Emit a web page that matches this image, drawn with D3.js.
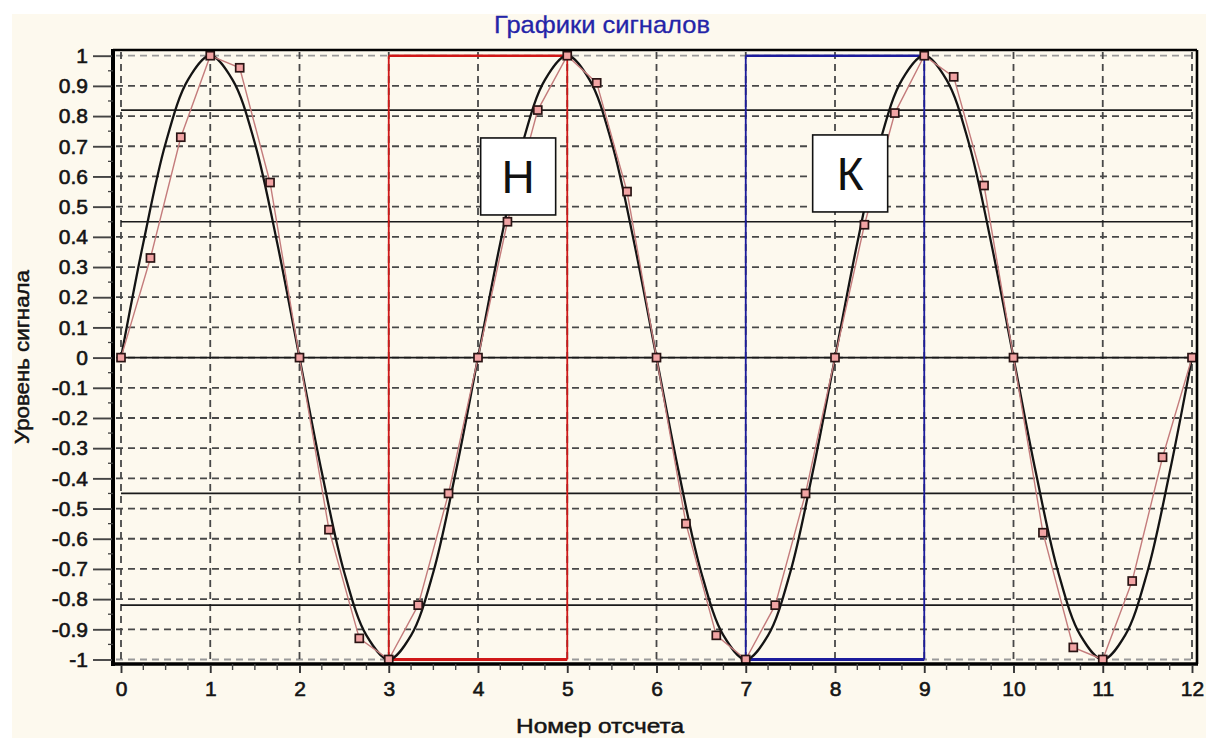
<!DOCTYPE html>
<html>
<head>
<meta charset="utf-8">
<script src="https://cdn.jsdelivr.net/npm/d3@7"></script>
<style>
  body { margin: 0; background: #ffffff; }
  svg { display: block; }
  text { font-family: "Liberation Sans", Arial, sans-serif; }
</style>
</head>
<body>
<svg id="chart" width="1206" height="738"></svg>
<script>
// Sampled signal: sample times and levels
const sampleTimes = [0, 0.33, 0.67, 1, 1.33, 1.67, 2, 2.33, 2.67, 3, 3.33, 3.67,
  4, 4.33, 4.67, 5, 5.33, 5.67, 6, 6.33, 6.67, 7, 7.33, 7.67,
  8, 8.33, 8.67, 9, 9.33, 9.67, 10, 10.33, 10.67, 11, 11.33, 11.67, 12];
const sampleValues = [0, 0.33, 0.73, 1, 0.96, 0.58, 0, -0.57, -0.93, -1, -0.82, -0.45,
  0, 0.45, 0.82, 1, 0.91, 0.55, 0, -0.55, -0.92, -1, -0.82, -0.45,
  0, 0.44, 0.81, 1, 0.93, 0.57, 0, -0.58, -0.96, -1, -0.74, -0.33, 0];

// Continuous signal, read at quarter steps
const sineTimes = [0, 0.25, 0.5, 0.75, 1, 1.25, 1.5, 1.75, 2, 2.25, 2.5, 2.75,
  3, 3.25, 3.5, 3.75, 4, 4.25, 4.5, 4.75, 5, 5.25, 5.5, 5.75,
  6, 6.25, 6.5, 6.75, 7, 7.25, 7.5, 7.75, 8, 8.25, 8.5, 8.75,
  9, 9.25, 9.5, 9.75, 10, 10.25, 10.5, 10.75, 11, 11.25, 11.5, 11.75, 12];
const sineValues = [0, 0.38, 0.71, 0.92, 1, 0.92, 0.71, 0.38, 0, -0.38, -0.71, -0.92,
  -1, -0.92, -0.71, -0.38, 0, 0.38, 0.71, 0.92, 1, 0.92, 0.71, 0.38,
  0, -0.38, -0.71, -0.92, -1, -0.92, -0.71, -0.38, 0, 0.38, 0.71, 0.92,
  1, 0.92, 0.71, 0.38, 0, -0.38, -0.71, -0.92, -1, -0.92, -0.71, -0.38, 0];

// Threshold levels drawn as solid lines
const levelLines = [0.82, 0.45, 0, -0.45, -0.82];

// Marked windows
const windowNames = ["Н", "К"];
const windowStarts = [3, 7];
const windowEnds = [5, 9];
const windowLow = -1;
const windowHigh = 1;

// Axis ticks
const xTickValues = [0, 1, 2, 3, 4, 5, 6, 7, 8, 9, 10, 11, 12];
const yTickValues = [1, 0.9, 0.8, 0.7, 0.6, 0.5, 0.4, 0.3, 0.2, 0.1, 0,
  -0.1, -0.2, -0.3, -0.4, -0.5, -0.6, -0.7, -0.8, -0.9, -1];

const titleText = "Графики сигналов";
const xTitleText = "Номер отсчета";
const yTitleText = "Уровень сигнала";

// ---- layout ----
const W = 1206, H = 738;
const frame = { left: 113, right: 1197, top: 50, bottom: 664 };
const windowColors = ["#d01818", "#1c1c9c"];
const labelAnchors = [[4.45, 0.60], [8.17, 0.61]];
const ink = "#141414";

const svg = d3.select("#chart");

// panel background
svg.append("rect").attr("x", 12).attr("y", 14).attr("width", W - 12).attr("height", H - 14)
  .attr("fill", "#fdf9ee");

const x = d3.scaleLinear().domain([0, 12]).range([121, 1192]);
const y = d3.scaleLinear().domain([-1, 1]).range([659.5, 55.7]);

// grid
const grid = svg.append("g");
grid.selectAll("line.h").data(yTickValues).join("line")
  .attr("x1", frame.left + 3).attr("x2", frame.right - 2)
  .attr("y1", d => y(d)).attr("y2", d => y(d))
  .attr("stroke", d => Math.abs(d) === 1 ? "#9a9a9a" : "#484848")
  .attr("stroke-width", 1.8).attr("stroke-dasharray", "7,5");
grid.selectAll("line.v").data(xTickValues).join("line")
  .attr("x1", d => x(d)).attr("x2", d => x(d))
  .attr("y1", frame.top + 2).attr("y2", frame.bottom - 2)
  .attr("stroke", "#484848").attr("stroke-width", 1.8).attr("stroke-dasharray", "7,5");

// threshold lines
svg.append("g").selectAll("line").data(levelLines).join("line")
  .attr("x1", x(0)).attr("x2", x(12))
  .attr("y1", d => y(d)).attr("y2", d => y(d))
  .attr("stroke", "#1a1a1a").attr("stroke-width", 1.7);

// windows
const win = svg.append("g");
windowNames.forEach((name, i) => {
  const x0 = x(windowStarts[i]), x1 = x(windowEnds[i]);
  const yT = y(windowHigh), yB = y(windowLow);
  const g = win.append("g").attr("stroke", windowColors[i]).attr("fill", "none");
  g.append("line").attr("x1", x0).attr("x2", x0).attr("y1", yT).attr("y2", yB).attr("stroke-width", 1.8);
  g.append("line").attr("x1", x1).attr("x2", x1).attr("y1", yT).attr("y2", yB).attr("stroke-width", 1.8);
  g.append("line").attr("x1", x0).attr("x2", x1).attr("y1", yT).attr("y2", yT).attr("stroke-width", 2.6);
  g.append("line").attr("x1", x0).attr("x2", x1).attr("y1", yB).attr("y2", yB).attr("stroke-width", 2.8);
});

// continuous signal
const sinePts = sineTimes.map((t, i) => [t, sineValues[i]]);
svg.append("path").datum(sinePts)
  .attr("d", d3.line().x(d => x(d[0])).y(d => y(d[1])).curve(d3.curveCatmullRom.alpha(0.5)))
  .attr("fill", "none").attr("stroke", ink).attr("stroke-width", 2.3);

// sampled signal
const samplePts = sampleTimes.map((t, i) => [t, sampleValues[i]]);
svg.append("path").datum(samplePts)
  .attr("d", d3.line().x(d => x(d[0])).y(d => y(d[1])))
  .attr("fill", "none").attr("stroke", "#c47c7c").attr("stroke-width", 1.4);
const sq = 8;
svg.append("g").selectAll("rect").data(samplePts).join("rect")
  .attr("x", d => x(d[0]) - sq / 2).attr("y", d => y(d[1]) - sq / 2)
  .attr("width", sq).attr("height", sq)
  .attr("fill", "#f2a4a4").attr("stroke", "#2a1414").attr("stroke-width", 1.7);

// frame
const fr = svg.append("g").attr("stroke", "#000");
fr.append("line").attr("x1", frame.left).attr("x2", frame.right).attr("y1", frame.top).attr("y2", frame.top).attr("stroke-width", 2.4);
fr.append("line").attr("x1", frame.right).attr("x2", frame.right).attr("y1", frame.top).attr("y2", frame.bottom).attr("stroke-width", 2.6);
fr.append("line").attr("x1", frame.left).attr("x2", frame.left).attr("y1", frame.top - 1).attr("y2", frame.bottom + 2).attr("stroke-width", 4);
fr.append("line").attr("x1", frame.left - 2).attr("x2", frame.right + 1).attr("y1", frame.bottom).attr("y2", frame.bottom).attr("stroke-width", 3.6);

// y axis
const yAxis = d3.axisLeft(y).tickValues(yTickValues).tickSize(19).tickPadding(5)
  .tickFormat(d => String(+d.toFixed(1)));
const yg = svg.append("g").attr("transform", `translate(${frame.left - 1},0)`).call(yAxis);
yg.select(".domain").remove();
yg.selectAll(".tick line").attr("stroke", "#444").attr("stroke-width", 1.9);
yg.selectAll(".tick text").attr("font-size", 21).attr("fill", ink)
  .attr("stroke", ink).attr("stroke-width", 0.6);
const yMinor = d3.range(-0.95, 1, 0.1).map(v => +v.toFixed(2));
svg.append("g").selectAll("line").data(yMinor).join("line")
  .attr("x1", frame.left - 5).attr("x2", frame.left).attr("y1", d => y(d)).attr("y2", d => y(d))
  .attr("stroke", "#444").attr("stroke-width", 1.3);

// x axis
const xAxis = d3.axisBottom(x).tickValues(xTickValues).tickSize(8).tickPadding(8)
  .tickFormat(d => String(d));
const xg = svg.append("g").attr("transform", `translate(0,${frame.bottom + 1})`).call(xAxis);
xg.select(".domain").remove();
xg.selectAll(".tick line").attr("stroke", "#333").attr("stroke-width", 1.9);
xg.selectAll(".tick text").attr("font-size", 21).attr("fill", ink)
  .attr("stroke", ink).attr("stroke-width", 0.6);
const xMinor = d3.range(0.25, 12, 0.25).filter(v => v % 1 !== 0);
svg.append("g").selectAll("line").data(xMinor).join("line")
  .attr("x1", d => x(d)).attr("x2", d => x(d)).attr("y1", frame.bottom).attr("y2", frame.bottom + 6)
  .attr("stroke", "#444").attr("stroke-width", 1.4);

// titles
svg.append("text").attr("x", 602).attr("y", 33).attr("text-anchor", "middle")
  .attr("font-size", 24).attr("fill", "#2424a8").attr("stroke", "#2424a8").attr("stroke-width", 0.3)
  .attr("textLength", 216).attr("lengthAdjust", "spacingAndGlyphs").text(titleText);
svg.append("text").attr("x", 600).attr("y", 733).attr("text-anchor", "middle")
  .attr("font-size", 21).attr("fill", ink).attr("stroke", ink).attr("stroke-width", 0.5)
  .attr("textLength", 168).attr("lengthAdjust", "spacingAndGlyphs").text(xTitleText);
svg.append("text").attr("transform", "translate(29,357) rotate(-90)").attr("text-anchor", "middle")
  .attr("font-size", 21).attr("fill", ink).attr("stroke", ink).attr("stroke-width", 0.5)
  .attr("textLength", 174).attr("lengthAdjust", "spacingAndGlyphs").text(yTitleText);

// window labels
const bw = 75, bh = 77;
windowNames.forEach((name, i) => {
  const cx = x(labelAnchors[i][0]), cy = y(labelAnchors[i][1]);
  svg.append("rect").attr("x", cx - bw / 2).attr("y", cy - bh / 2).attr("width", bw).attr("height", bh)
    .attr("fill", "#ffffff").attr("stroke", "#111").attr("stroke-width", 1.6);
  svg.append("text").attr("x", cx).attr("y", cy + 17).attr("text-anchor", "middle")
    .attr("font-family", "Carlito, 'Open Sans', 'Liberation Sans', sans-serif")
    .attr("font-size", 46).attr("fill", "#111").text(name);
});
</script>
</body>
</html>
